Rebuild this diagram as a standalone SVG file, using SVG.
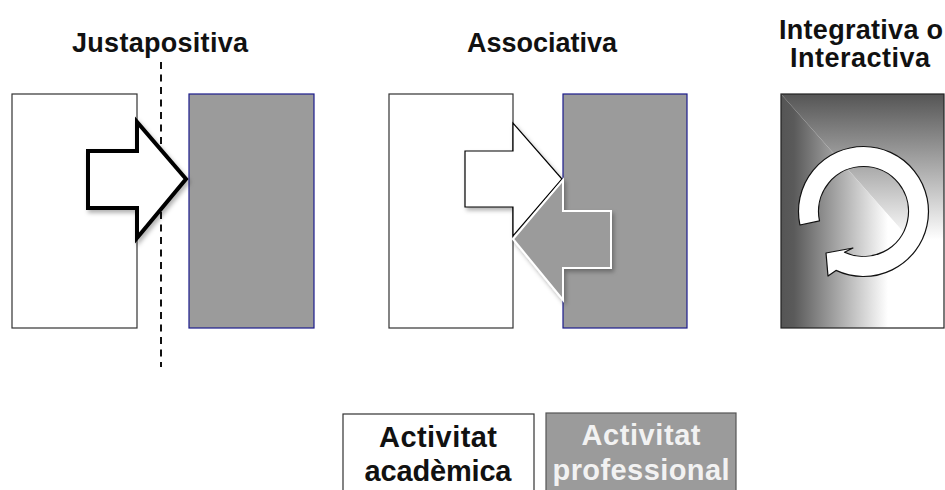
<svg xmlns="http://www.w3.org/2000/svg" width="945" height="490" viewBox="0 0 945 490">
<style>
.title{font-family:"Liberation Sans",Arial,sans-serif;font-weight:bold;font-size:27px;fill:#111;text-anchor:middle}
.legend{font-family:"Liberation Sans",Arial,sans-serif;font-weight:bold;font-size:29px;text-anchor:middle}
.acad{fill:#fff;stroke:#333;stroke-width:1.2}
.prof{fill:#9b9b9b;stroke:#1c1c8c;stroke-width:1.2}
</style>
<defs>
<filter id="sh" x="-20%" y="-20%" width="150%" height="150%">
<feDropShadow dx="2" dy="3" stdDeviation="2" flood-color="#000" flood-opacity="0.3"/>
</filter>
<linearGradient id="gv" gradientUnits="userSpaceOnUse" x1="0" y1="94" x2="0" y2="240">
<stop offset="0" stop-color="#555"/><stop offset="1" stop-color="#fff"/>
</linearGradient>
<linearGradient id="gh" gradientUnits="userSpaceOnUse" x1="781" y1="0" x2="888" y2="0">
<stop offset="0" stop-color="#555"/><stop offset="0.12" stop-color="#5a5a5a"/><stop offset="1" stop-color="#fff"/>
</linearGradient>
</defs>
<rect width="945" height="490" fill="#fff"/>

<g id="title-justapositiva"><text class="title" x="160" y="52" textLength="176" lengthAdjust="spacing">Justapositiva</text></g>
<g id="title-associativa"><text class="title" x="542" y="52" textLength="150" lengthAdjust="spacing">Associativa</text></g>
<g id="title-integrativa"><text class="title" x="861" y="39" textLength="164" lengthAdjust="spacing">Integrativa o</text><text class="title" x="860" y="67" textLength="140" lengthAdjust="spacing">Interactiva</text></g>

<g id="just-acad"><rect class="acad" x="12" y="94" width="125" height="234"/></g>
<g id="just-prof"><rect class="prof" x="189" y="94" width="125" height="234"/></g>
<g id="assoc-acad"><rect class="acad" x="389" y="94" width="124" height="234"/></g>
<g id="assoc-prof"><rect class="prof" x="563" y="94" width="124" height="234"/></g>

<g id="integ">
<polygon points="781,94 944,94 944,278" fill="url(#gv)"/>
<polygon points="781,94 944,278 944,328 781,328" fill="url(#gh)"/>
<rect x="781" y="94" width="163" height="234" fill="none" stroke="#222" stroke-width="1.2"/>
<path d="M799.9,225 A65,65 0 1 1 836,270.4 L828,276 L826,253 L853,248 L844.5,252.3 A45,45 0 1 0 819.5,220.9 Z" fill="#fff" stroke="#111" stroke-width="1.2" stroke-linejoin="round"/>
</g>

<g id="connectors">
<line x1="161" y1="62" x2="161" y2="367" stroke="#111" stroke-width="2" stroke-dasharray="7,5.5"/>
<path d="M88,151 L137,151 L137,122 L186,179 L137,238 L137,208 L88,208 Z" fill="#fff" stroke="#000" stroke-width="4" stroke-linejoin="miter" filter="url(#sh)"/>
<path d="M465,151 L513,151 L513,123 L562,179 L513,236 L513,207 L465,207 Z" fill="#fff" stroke="#000" stroke-width="1.2" filter="url(#sh)"/>
<path d="M611,211 L563,211 L563,180 L513,239 L563,300 L563,268 L611,268 Z" fill="#9b9b9b" stroke="#fff" stroke-width="2" filter="url(#sh)"/>
</g>

<g id="legend-acad">
<rect x="343" y="414" width="191" height="90" fill="#fff" stroke="#333" stroke-width="1.2"/>
<text class="legend" x="438" y="447" fill="#111" textLength="118" lengthAdjust="spacing">Activitat</text>
<text class="legend" x="438" y="481" fill="#111" textLength="147" lengthAdjust="spacing">acadèmica</text>
</g>
<g id="legend-prof">
<rect x="546" y="413" width="190" height="90" fill="#9b9b9b" stroke="#555" stroke-width="1.2"/>
<text class="legend" x="641" y="445" fill="#f2f2f2" textLength="119" lengthAdjust="spacing">Activitat</text>
<text class="legend" x="641" y="480" fill="#f2f2f2" textLength="177" lengthAdjust="spacing">professional</text>
</g>
</svg>
